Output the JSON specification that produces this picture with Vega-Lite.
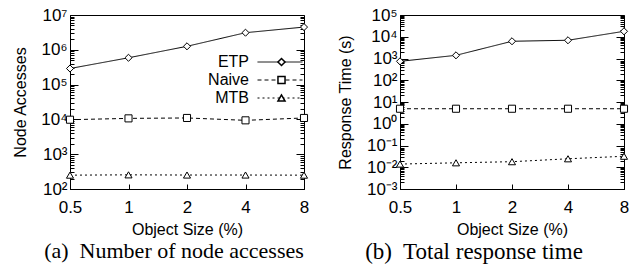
{
  "$schema": "https://vega.github.io/schema/vega-lite/v6.json",
  "padding": {"left": 12, "top": 5, "right": 5, "bottom": 0},
  "background": "white",
  "spacing": 25,
  "config": {
    "view": {"stroke": "black", "strokeWidth": 1},
    "axis": {"labelFont": "Liberation Sans", "titleFont": "Liberation Sans", "labelFontSize": 17, "titleFontSize": 16, "titleFontWeight": "normal", "labelColor": "black", "titleColor": "black", "domainColor": "black", "tickColor": "black", "grid": false, "labelOverlap": false, "labelFlush": false},
    "legend": {"labelFont": "Liberation Sans", "labelFontSize": 16, "labelColor": "black", "padding": 0, "rowPadding": 2},
    "title": {"font": "Liberation Serif", "fontSize": 22, "fontWeight": "normal", "color": "black", "orient": "bottom", "anchor": "middle"}
  },
  "datasets": {
    "na": [
      {"size": 0.5, "series": "ETP", "value": 290000},
      {"size": 1, "series": "ETP", "value": 590000},
      {"size": 2, "series": "ETP", "value": 1260000},
      {"size": 4, "series": "ETP", "value": 3100000},
      {"size": 8, "series": "ETP", "value": 4500000},
      {"size": 0.5, "series": "Naive", "value": 9800},
      {"size": 1, "series": "Naive", "value": 10700},
      {"size": 2, "series": "Naive", "value": 11000},
      {"size": 4, "series": "Naive", "value": 9400},
      {"size": 8, "series": "Naive", "value": 11000},
      {"size": 0.5, "series": "MTB", "value": 250},
      {"size": 1, "series": "MTB", "value": 255},
      {"size": 2, "series": "MTB", "value": 252},
      {"size": 4, "series": "MTB", "value": 252},
      {"size": 8, "series": "MTB", "value": 250}
    ],
    "rt": [
      {"size": 0.5, "series": "ETP", "value": 740},
      {"size": 1, "series": "ETP", "value": 1400},
      {"size": 2, "series": "ETP", "value": 6200},
      {"size": 4, "series": "ETP", "value": 6900},
      {"size": 8, "series": "ETP", "value": 17800},
      {"size": 0.5, "series": "Naive", "value": 4.9},
      {"size": 1, "series": "Naive", "value": 4.9},
      {"size": 2, "series": "Naive", "value": 4.9},
      {"size": 4, "series": "Naive", "value": 4.9},
      {"size": 8, "series": "Naive", "value": 4.9},
      {"size": 0.5, "series": "MTB", "value": 0.014},
      {"size": 1, "series": "MTB", "value": 0.016},
      {"size": 2, "series": "MTB", "value": 0.018},
      {"size": 4, "series": "MTB", "value": 0.0245},
      {"size": 8, "series": "MTB", "value": 0.032}
    ]
  },
  "hconcat": [
    {
      "width": 234,
      "height": 174,
      "title": {"text": "(a)\u00a0 Number of node accesses", "frame": "group", "dx": -13, "offset": 4},
      "data": {"name": "na"},
      "resolve": {"axis": {"x": "independent", "y": "independent"}},
      "layer": [
        {
          "mark": {"type": "line", "color": "black", "strokeWidth": 1},
          "encoding": {
            "x": {"field": "size", "type": "quantitative", "scale": {"type": "log", "base": 2, "domain": [0.5, 8], "nice": false},
              "axis": {"orient": "bottom", "values": [0.5, 1, 2, 4, 8], "format": "~g", "title": "Object Size (%)", "tickSize": -5, "labelPadding": 15, "titlePadding": 6}},
            "y": {"field": "value", "type": "quantitative", "scale": {"type": "log", "domain": [100, 10000000], "nice": false},
              "axis": {"orient": "left", "title": "Node Accesses", "titlePadding": 12, "labelPadding": 11,
                "values": [100,200,300,400,500,600,700,800,900,1000,2000,3000,4000,5000,6000,7000,8000,9000,10000,20000,30000,40000,50000,60000,70000,80000,90000,100000,200000,300000,400000,500000,600000,700000,800000,900000,1000000,2000000,3000000,4000000,5000000,6000000,7000000,8000000,9000000,10000000],
                "labelExpr": "abs(log(datum.value)/LN10 - round(log(datum.value)/LN10)) < 0.001 ? '10' + (round(log(datum.value)/LN10) < 0 ? '⁻' : '') + ['⁰','¹','²','³','⁴','⁵','⁶','⁷','⁸','⁹'][abs(round(log(datum.value)/LN10))] : ''",
                "tickSize": {"condition": {"test": "abs(log(datum.value)/LN10 - round(log(datum.value)/LN10)) < 0.001", "value": -8}, "value": -4}}},
            "strokeDash": {"field": "series", "type": "nominal", "sort": ["ETP", "Naive", "MTB"], "scale": {"range": [[1, 0], [4, 3], [2, 3]]},
              "legend": {"orient": "none", "legendX": 202, "legendY": 39, "title": null, "symbolType": "M-4.5,0H4.5", "symbolSize": 100, "symbolStrokeWidth": 1, "symbolStrokeColor": "black", "labelAlign": "right", "labelOffset": -39}}
          }
        },
        {
          "mark": {"type": "point", "fill": "white", "stroke": "black", "strokeWidth": 1, "size": 50, "opacity": 1},
          "encoding": {
            "x": {"field": "size", "type": "quantitative", "scale": {"type": "log", "base": 2, "domain": [0.5, 8], "nice": false}, "axis": null},
            "y": {"field": "value", "type": "quantitative", "scale": {"type": "log", "domain": [100, 10000000], "nice": false},
              "axis": {"orient": "right", "title": null, "labels": false, "domain": false,
                "values": [100,200,300,400,500,600,700,800,900,1000,2000,3000,4000,5000,6000,7000,8000,9000,10000,20000,30000,40000,50000,60000,70000,80000,90000,100000,200000,300000,400000,500000,600000,700000,800000,900000,1000000,2000000,3000000,4000000,5000000,6000000,7000000,8000000,9000000,10000000],
                "tickSize": {"condition": {"test": "abs(log(datum.value)/LN10 - round(log(datum.value)/LN10)) < 0.001", "value": -8}, "value": -4}}},
            "shape": {"field": "series", "type": "nominal", "scale": {"domain": ["ETP", "Naive", "MTB"], "range": ["diamond", "square", "triangle-up"]},
              "legend": {"orient": "none", "legendX": 203.5, "legendY": 39, "title": null, "symbolSize": 50, "labelColor": "transparent", "zindex": 1,
                "encode": {"symbols": {"update": {"stroke": {"value": "black"}, "fill": {"value": "white"}, "strokeWidth": {"value": 1}, "opacity": {"value": 1}}}}}}
          }
        }
      ]
    },
    {
      "width": 224,
      "height": 174,
      "title": {"text": "(b)\u00a0 Total response time", "frame": "group", "dx": -38, "offset": 4, "fontSize": 23},
      "data": {"name": "rt"},
      "resolve": {"axis": {"x": "independent", "y": "independent"}},
      "layer": [
        {
          "mark": {"type": "line", "color": "black", "strokeWidth": 1},
          "encoding": {
            "x": {"field": "size", "type": "quantitative", "scale": {"type": "log", "base": 2, "domain": [0.5, 8], "nice": false},
              "axis": {"orient": "bottom", "values": [0.5, 1, 2, 4, 8], "format": "~g", "title": "Object Size (%)", "tickSize": -5, "labelPadding": 15, "titlePadding": 6}},
            "y": {"field": "value", "type": "quantitative", "scale": {"type": "log", "domain": [0.001, 100000], "nice": false},
              "axis": {"orient": "left", "title": "Response Time (s)", "titlePadding": 13, "labelPadding": 11,
                "values": [0.001,0.002,0.003,0.004,0.005,0.006,0.007,0.008,0.009,0.01,0.02,0.03,0.04,0.05,0.06,0.07,0.08,0.09,0.1,0.2,0.3,0.4,0.5,0.6,0.7,0.8,0.9,1,2,3,4,5,6,7,8,9,10,20,30,40,50,60,70,80,90,100,200,300,400,500,600,700,800,900,1000,2000,3000,4000,5000,6000,7000,8000,9000,10000,20000,30000,40000,50000,60000,70000,80000,90000,100000],
                "labelExpr": "abs(log(datum.value)/LN10 - round(log(datum.value)/LN10)) < 0.001 ? '10' + (round(log(datum.value)/LN10) < 0 ? '⁻' : '') + ['⁰','¹','²','³','⁴','⁵','⁶','⁷','⁸','⁹'][abs(round(log(datum.value)/LN10))] : ''",
                "tickSize": {"condition": {"test": "abs(log(datum.value)/LN10 - round(log(datum.value)/LN10)) < 0.001", "value": -8}, "value": -4}}},
            "strokeDash": {"field": "series", "type": "nominal", "sort": ["ETP", "Naive", "MTB"], "scale": {"range": [[1, 0], [4, 3], [2, 3]]},
              "legend": {"orient": "none", "legendX": 194, "legendY": 40, "title": null, "symbolType": "M-4.7,0H4.7", "symbolSize": 100, "symbolStrokeWidth": 1, "symbolStrokeColor": "black", "labelAlign": "right", "labelOffset": -39}}
          }
        },
        {
          "mark": {"type": "point", "fill": "white", "stroke": "black", "strokeWidth": 1, "size": 50, "opacity": 1},
          "encoding": {
            "x": {"field": "size", "type": "quantitative", "scale": {"type": "log", "base": 2, "domain": [0.5, 8], "nice": false}, "axis": null},
            "y": {"field": "value", "type": "quantitative", "scale": {"type": "log", "domain": [0.001, 100000], "nice": false},
              "axis": {"orient": "right", "title": null, "labels": false, "domain": false,
                "values": [0.001,0.002,0.003,0.004,0.005,0.006,0.007,0.008,0.009,0.01,0.02,0.03,0.04,0.05,0.06,0.07,0.08,0.09,0.1,0.2,0.3,0.4,0.5,0.6,0.7,0.8,0.9,1,2,3,4,5,6,7,8,9,10,20,30,40,50,60,70,80,90,100,200,300,400,500,600,700,800,900,1000,2000,3000,4000,5000,6000,7000,8000,9000,10000,20000,30000,40000,50000,60000,70000,80000,90000,100000],
                "tickSize": {"condition": {"test": "abs(log(datum.value)/LN10 - round(log(datum.value)/LN10)) < 0.001", "value": -8}, "value": -4}}},
            "shape": {"field": "series", "type": "nominal", "scale": {"domain": ["ETP", "Naive", "MTB"], "range": ["diamond", "square", "triangle-up"]},
              "legend": {"orient": "none", "legendX": 195.5, "legendY": 40, "title": null, "symbolSize": 50, "labelColor": "transparent", "zindex": 1,
                "encode": {"symbols": {"update": {"stroke": {"value": "black"}, "fill": {"value": "white"}, "strokeWidth": {"value": 1}, "opacity": {"value": 1}}}}}}
          }
        }
      ]
    }
  ]
}
